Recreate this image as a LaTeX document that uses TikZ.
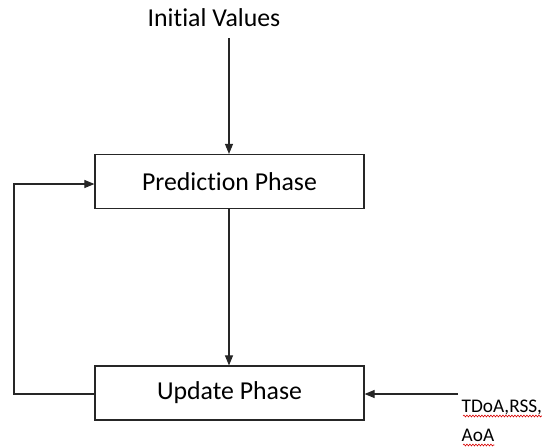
\documentclass[tikz,border=0pt]{standalone}
\usepackage{fontspec}
\setmainfont{Carlito}[Ligatures=CommonOff]
\usetikzlibrary{arrows.meta,decorations.pathmorphing}
\begin{document}
\begin{tikzpicture}[x=1pt,y=1pt,
  box/.style={draw=black!85,line width=1.2pt,minimum width=269pt,minimum height=54pt,inner sep=0pt,font=\fontsize{25.8}{30}\selectfont},
  conn/.style={draw=black!85,line width=1.1pt,-{Triangle[length=10pt,width=8pt]}},
  lbl/.style={inner sep=0pt,anchor=base west},
  wavy/.style={draw=red!85!black,line width=0.6pt,decorate,decoration={snake,amplitude=0.9pt,segment length=3pt}}]
\useasboundingbox (0,0) rectangle (542,-448);
\node[box] (pred) at (229.5,-181.5) {Prediction Phase};
\node[box] (upd) at (229.5,-393) {Update Phase};
\node[inner sep=0pt,font=\fontsize{25.8}{30}\selectfont] (init) at (214,-18) {Initial Values};
\coordinate (itop) at (229,-38);
\draw[conn] (itop) -- (itop |- pred.north);
\draw[conn] (pred.south -| 229,0) -- (upd.north -| 229,0);
\coordinate (left) at (14,-394);
\draw[conn] (upd.west |- 0,-394) -- (left) |- (pred.west |- 0,-184);
\coordinate (rin) at (458,-394);
\draw[conn] (rin) -- (upd.east |- rin);
\node[lbl,font=\fontsize{19.3}{24}\selectfont] (t1) at (461.5,-412) {TDoA,RSS,};
\node[lbl,font=\fontsize{19.3}{24}\selectfont] (t2) at (461.5,-441) {AoA};
\draw[wavy] (463,-416) -- (t1.east |- 0,-416);
\draw[wavy] (463,-445) -- (t2.east |- 0,-445);
\end{tikzpicture}
\end{document}
